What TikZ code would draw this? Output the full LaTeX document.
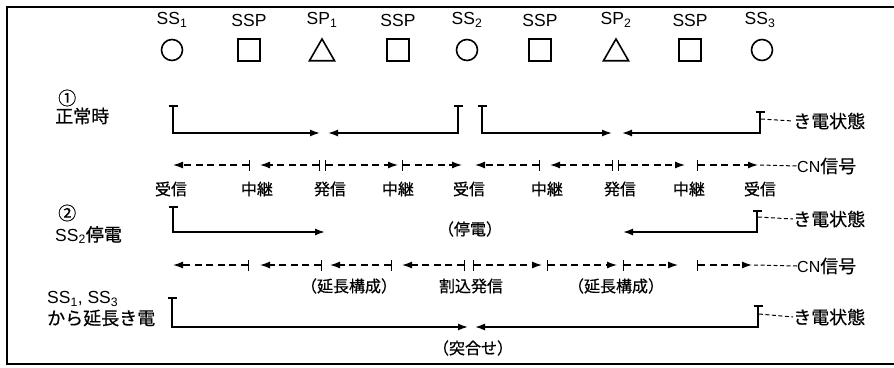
\documentclass[tikz,border=0pt]{standalone}
\usepackage{fontspec}
\setmainfont{Liberation Sans}
\newfontfamily\jp[FakeBold=0.6]{Noto Sans CJK JP}
\usetikzlibrary{arrows.meta,shapes.geometric}
\begin{document}
\begin{tikzpicture}[x=1pt,y=-1pt,
  toplab/.style={inner sep=0pt,font=\fontsize{17.5}{19}\selectfont},
  circ/.style={draw,circle,line width=1.6pt,minimum size=21pt,inner sep=0pt},
  sq/.style={draw,rectangle,line width=1.6pt,minimum size=22pt,inner sep=0pt},
  tri/.style={draw,regular polygon,regular polygon sides=3,line width=1.6pt,minimum size=29pt,inner sep=0pt},
  feed/.style={line width=1.6pt,arrows={Bar[width=9pt,line width=1.6pt]-Latex[length=10pt,width=7pt]}},
  cn/.style={line width=1.3pt,dash pattern=on 7pt off 4.5pt,arrows={Bar[width=11pt,line width=1.4pt]-Latex[length=10pt,width=7pt]}},
  lead/.style={line width=1pt,dash pattern=on 4pt off 2.5pt},
  jps/.style={inner sep=0pt,font=\jp\fontsize{16}{18}\selectfont},
  sidelab/.style={inner sep=0pt,anchor=west,font=\jp\fontsize{18}{20}\selectfont},
]
\useasboundingbox (0,0) rectangle (894,367);
\draw[line width=1.4pt] (894,7) -- (7,7) -- (7,364) -- (894,364);

% stations
\node[toplab] (l1) at (172,20) {SS\textsubscript{1}};
\node[circ] (s1) at (172,50) {};
\node[toplab] (l2) at (249,20) {SSP};
\node[sq] (s2) at (249,50) {};
\node[toplab] (l3) at (322,20) {SP\textsubscript{1}};
\node[tri] (s3) at (322,53.5) {};
\node[toplab] (l4) at (398,20) {SSP};
\node[sq] (s4) at (398,50) {};
\node[toplab] (l5) at (467,20) {SS\textsubscript{2}};
\node[circ] (s5) at (467,50) {};
\node[toplab] (l6) at (540,20) {SSP};
\node[sq] (s6) at (540,50) {};
\node[toplab] (l7) at (616,20) {SP\textsubscript{2}};
\node[tri] (s7) at (616,53.5) {};
\node[toplab] (l8) at (690,20) {SSP};
\node[sq] (s8) at (690,50) {};
\node[toplab] (l9) at (760,20) {SS\textsubscript{3}};
\node[circ] (s9) at (762,50) {};

% case 1 labels
\node[sidelab] (c1n) at (58,98) {①};
\node[sidelab] (c1t) at (55,116) {正常時};

% case 1 feeding
\coordinate (a1) at (173,105); \coordinate (a1c) at (173,133); \coordinate (a1e) at (320,133);
\coordinate (a2) at (458,105); \coordinate (a2c) at (458,133); \coordinate (a2e) at (328,133);
\coordinate (a3) at (482,105); \coordinate (a3c) at (482,133); \coordinate (a3e) at (612,133);
\coordinate (a4) at (760,111); \coordinate (a4c) at (760,133); \coordinate (a4e) at (622,133);
\draw[feed] (a1) -- (a1c) -- (a1e);
\draw[feed] (a2) -- (a2c) -- (a2e);
\draw[feed] (a3) -- (a3c) -- (a3e);
\draw[feed] (a4) -- (a4c) -- (a4e);
\node[sidelab] (f1) at (793,121) {き電状態};
\coordinate (f1s) at (761,119);
\draw[lead] (f1s) -- (f1.west);

% case 1 CN
\foreach \s/\e in {250/173,320/260,325/398,402/462,540/475,613/550,618/685,697/758}
  \draw[cn] (\s,165) -- (\e,165);
\node[sidelab] (cn1) at (797,166) {\fontspec{Liberation Sans}\fontsize{16}{18}\selectfont CN\jp\fontsize{18}{20}\selectfont 信号};
\coordinate (cn1s) at (760,165);
\draw[lead] (cn1s) -- (cn1.west);

\node[jps] (r1) at (171,189) {受信};
\node[jps] (r2) at (257,189) {中継};
\node[jps] (r3) at (330,189) {発信};
\node[jps] (r4) at (398,189) {中継};
\node[jps] (r5) at (469,189) {受信};
\node[jps] (r6) at (547,189) {中継};
\node[jps] (r7) at (620,189) {発信};
\node[jps] (r8) at (689,189) {中継};
\node[jps] (r9) at (760,189) {受信};

% case 2
\node[sidelab] (c2n) at (58,213) {②};
\node[sidelab] (c2t) at (55,235) {\fontspec{Liberation Sans}\fontsize{17.5}{19}\selectfont SS\textsubscript{2}\jp\fontsize{18}{20}\selectfont 停電};
\coordinate (b1) at (173,206); \coordinate (b1c) at (173,232); \coordinate (b1e) at (325,232);
\coordinate (b2) at (757,210); \coordinate (b2c) at (757,232); \coordinate (b2e) at (623,232);
\draw[feed] (b1) -- (b1c) -- (b1e);
\draw[feed] (b2) -- (b2c) -- (b2e);
\node[jps] (tei) at (470,229) {（停電）};
\node[sidelab] (f2) at (793,219) {き電状態};
\coordinate (f2s) at (758,217);
\draw[lead] (f2s) -- (f2.west);

\foreach \s/\e in {249/173,322/260,392/330,465/402,473/542,547/617,623/678,697/752}
  \draw[cn] (\s,265) -- (\e,265);
\node[sidelab] (cn2) at (797,266) {\fontspec{Liberation Sans}\fontsize{16}{18}\selectfont CN\jp\fontsize{18}{20}\selectfont 信号};
\coordinate (cn2s) at (754,265);
\draw[lead] (cn2s) -- (cn2.west);
\node[jps] (e1) at (349,286) {（延長構成）};
\node[jps] (e2) at (471,286) {割込発信};
\node[jps] (e3) at (616,286) {（延長構成）};

% case 3
\node[sidelab] (c3a) at (47,299) {\fontspec{Liberation Sans}\fontsize{17.5}{19}\selectfont SS\textsubscript{1}, SS\textsubscript{3}};
\node[sidelab] (c3b) at (47,318) {から延長き電};
\coordinate (d1) at (172,297); \coordinate (d1c) at (172,327); \coordinate (d1e) at (468,327);
\coordinate (d2) at (758,305); \coordinate (d2c) at (758,327); \coordinate (d2e) at (475,327);
\draw[feed] (d1) -- (d1c) -- (d1e);
\draw[feed] (d2) -- (d2c) -- (d2e);
\node[sidelab] (f3) at (793,317) {き電状態};
\coordinate (f3s) at (759,314);
\draw[lead] (f3s) -- (f3.west);
\node[jps] (tsuki) at (473,348) {（突合せ）};
\end{tikzpicture}
\end{document}
